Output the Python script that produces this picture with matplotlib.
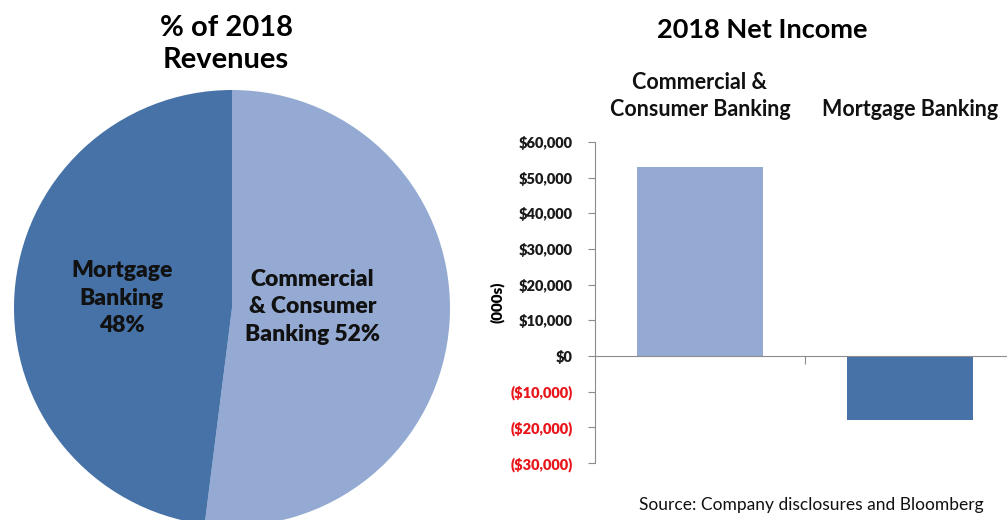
import matplotlib

matplotlib.use("Agg")
import matplotlib.pyplot as plt

# Revenue share by segment (%), drawn clockwise from 12 o'clock
pie_segments = ["Commercial\n& Consumer\nBanking", "Mortgage\nBanking"]
pie_shares = [52, 48]
pie_label_sep = [" ", "\n"]

# Net income by segment, thousands of dollars
bar_segments = ["Commercial &\nConsumer Banking", "Mortgage Banking"]
net_income = [53000, -18000]
y_ticks = [-30000, -20000, -10000, 0, 10000, 20000, 30000, 40000, 50000, 60000]

LIGHT = "#94aad3"
DARK = "#4672a8"
AXIS_GRAY = "#8c8c8c"

plt.rcParams["font.family"] = ["Lato", "DejaVu Sans"]

W, H = 1007, 520
fig = plt.figure(figsize=(W / 100, H / 100), dpi=100)
fig.patch.set_facecolor("white")


def px_box(left, top, right, bottom):
    """pixel box (origin top-left) -> figure fraction rect"""
    return [left / W, 1 - bottom / H, (right - left) / W, (bottom - top) / H]


# ---- pie ----
cx, cy, r = 232, 308, 218
ax_pie = fig.add_axes(px_box(cx - r, cy - r, cx + r, cy + r))
ax_pie.pie(pie_shares, colors=[LIGHT, DARK], startangle=90, counterclock=False,
           radius=1.0, wedgeprops=dict(linewidth=0))
ax_pie.set_xlim(-1, 1)
ax_pie.set_ylim(-1, 1)
ax_pie.set_aspect("equal")
ax_pie.axis("off")

pie_label_pos = [(0.37, 0.005), (-0.505, 0.045)]
for name, share, sep, (lx, ly) in zip(pie_segments, pie_shares, pie_label_sep, pie_label_pos):
    ax_pie.text(lx, ly, f"{name}{sep}{share}%", ha="center", va="center",
                fontsize=16.5, fontweight="heavy", color="#111111", linespacing=1.4)

fig.text(226 / W, 1 - 44 / H, "% of 2018\nRevenues", ha="center", va="center",
         fontsize=21, fontweight="bold", linespacing=1.3)

# ---- bars ----
ax = fig.add_axes(px_box(595, 142, 1015, 463))
x = list(range(len(bar_segments)))
ax.bar(x, net_income, width=0.6, color=[LIGHT, DARK], zorder=2)
ax.set_xlim(-0.5, len(bar_segments) - 0.5)
ax.set_ylim(min(y_ticks), max(y_ticks))


def money(v):
    if v < 0:
        return f"(${abs(v):,.0f})"
    return f"${v:,.0f}"


ax.set_yticks(y_ticks, labels=[money(v) for v in y_ticks],
              fontweight="heavy", fontsize=10.5)
for lbl, v in zip(ax.get_yticklabels(), y_ticks):
    lbl.set_color("#e8151b" if v < 0 else "#1a1a1a")

ax.set_xticks([i + 0.5 for i in x[:-1]])
ax.set_xticklabels([])
ax.tick_params(axis="x", length=6, color=AXIS_GRAY, direction="out")
ax.tick_params(axis="y", length=5, color=AXIS_GRAY, pad=11)

for side in ("top", "right"):
    ax.spines[side].set_visible(False)
ax.spines["bottom"].set_position(("data", 0))
ax.spines["bottom"].set_color(AXIS_GRAY)
ax.spines["left"].set_color(AXIS_GRAY)

ax.set_ylabel("(000s)", fontsize=11, fontweight="heavy", labelpad=4)

for i, name in zip(x, bar_segments):
    ax.text(i, 1.07, name, transform=ax.get_xaxis_transform(), ha="center", va="bottom",
            fontsize=15.5, fontweight="bold", color="#111111", linespacing=1.35)

fig.text(762 / W, 1 - 30 / H, "2018 Net Income", ha="center", va="center",
         fontsize=19.5, fontweight="bold")

fig.text(811 / W, 1 - 505 / H, "Source: Company disclosures and Bloomberg",
         ha="center", va="center", fontsize=12.5, color="#111111")

fig.savefig("out.png", dpi=100)
plt.close(fig)
